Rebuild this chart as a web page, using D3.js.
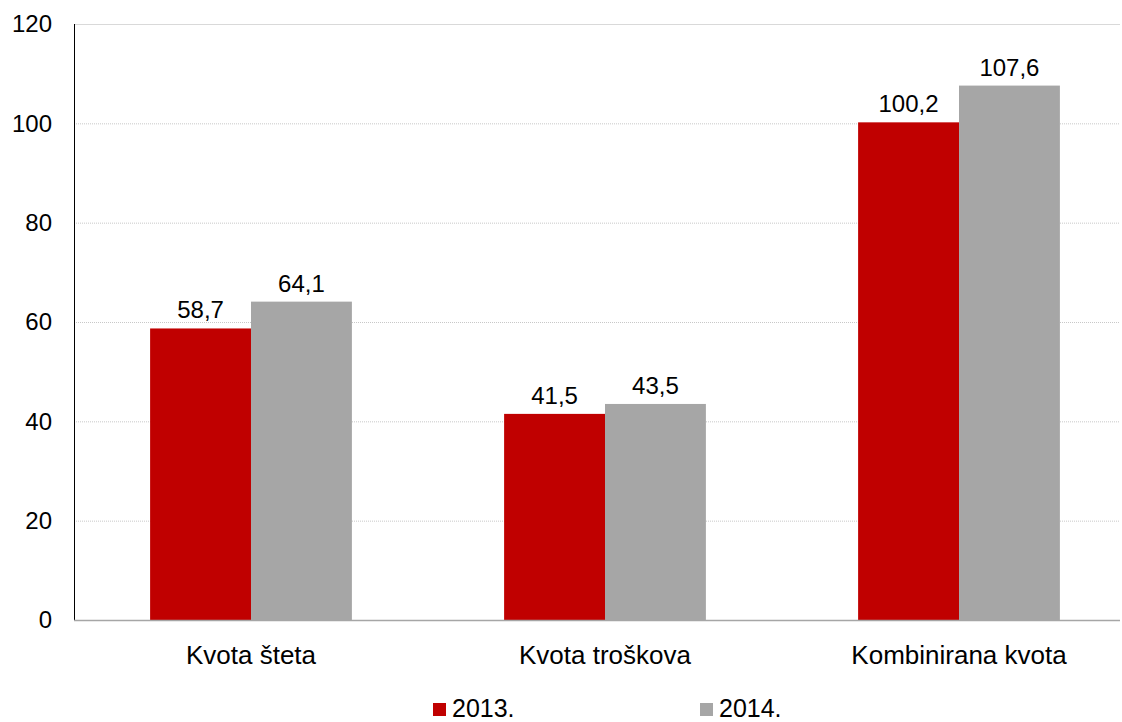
<!DOCTYPE html>
<html>
<head>
<meta charset="utf-8">
<script src="https://cdn.jsdelivr.net/npm/d3@7"></script>
<style>
  body { margin: 0; background: #fff; }
  text { font-family: "Liberation Sans", Arial, sans-serif; fill: #000; }
</style>
</head>
<body>
<div id="chart"></div>
<script>
// data
const categories = ["Kvota šteta", "Kvota troškova", "Kombinirana kvota"];
const years = ["2013.", "2014."];
const values2013 = [58.7, 41.5, 100.2];
const values2014 = [64.1, 43.5, 107.6];
const yTicks = [0, 20, 40, 60, 80, 100, 120];
const colors = ["#C00000", "#A6A6A6"];

const width = 1122, height = 722;
const plotLeft = 74, plotRight = 1136, gridRight = 1120;
const plotTop = 24, plotBottom = 620;

const svg = d3.select("#chart").append("svg")
  .attr("width", width).attr("height", height);

const x = d3.scaleBand().domain(categories).range([plotLeft, plotRight])
  .paddingInner(0.43).paddingOuter(0.215);
const xs = d3.scaleBand().domain(years).range([0, x.bandwidth()]);
const y = d3.scaleLinear().domain([0, 120]).range([plotBottom, plotTop]);

// gridlines
svg.append("g").selectAll("line")
  .data(yTicks.filter(d => d > 0))
  .join("line")
  .attr("x1", plotLeft).attr("x2", gridRight)
  .attr("y1", d => y(d) + 0.5).attr("y2", d => y(d) + 0.5)
  .attr("stroke", d => d === 120 ? "#d9d9d9" : "#c8c8c8")
  .attr("stroke-width", 1)
  .attr("stroke-dasharray", d => d === 120 ? null : "1,1");

// y labels
svg.append("g").selectAll("text")
  .data(yTicks)
  .join("text")
  .attr("x", 52).attr("y", d => y(d))
  .attr("dy", "0.35em")
  .attr("text-anchor", "end")
  .style("font-size", "24px")
  .text(d => d);

// bars
const rows = categories.map((c, i) => ({ cat: c, vals: [values2013[i], values2014[i]] }));
const groups = svg.append("g").selectAll("g")
  .data(rows).join("g")
  .attr("transform", d => `translate(${x(d.cat)},0)`);

groups.selectAll("rect")
  .data(d => d.vals.map((v, j) => ({ year: years[j], v, j })))
  .join("rect")
  .attr("x", d => xs(d.year))
  .attr("width", xs.bandwidth())
  .attr("y", d => y(d.v))
  .attr("height", d => plotBottom - y(d.v))
  .attr("fill", d => colors[d.j]);

groups.selectAll("text")
  .data(d => d.vals.map((v, j) => ({ year: years[j], v })))
  .join("text")
  .attr("x", d => xs(d.year) + xs.bandwidth() / 2)
  .attr("y", d => y(d.v) - 10)
  .attr("text-anchor", "middle")
  .style("font-size", "24px")
  .text(d => d3.format(".1f")(d.v).replace(".", ","));

// axis lines
svg.append("line")
  .attr("x1", plotLeft + 0.5).attr("x2", plotLeft + 0.5)
  .attr("y1", plotTop).attr("y2", plotBottom)
  .attr("stroke", "#000").attr("stroke-width", 1);
svg.append("line")
  .attr("x1", plotLeft).attr("x2", gridRight)
  .attr("y1", plotBottom + 0.5).attr("y2", plotBottom + 0.5)
  .attr("stroke", "#a6a6a6").attr("stroke-width", 1.5);

// category labels
svg.append("g").selectAll("text")
  .data(categories).join("text")
  .attr("x", d => x(d) + x.bandwidth() / 2)
  .attr("y", 664)
  .attr("text-anchor", "middle")
  .style("font-size", "26px")
  .text(d => d);

// legend
const legendX = [433, 700];
const legend = svg.append("g").selectAll("g")
  .data(years).join("g")
  .attr("transform", (d, i) => `translate(${legendX[i]},0)`);
legend.append("rect")
  .attr("x", 0).attr("y", 703).attr("width", 13).attr("height", 13)
  .attr("fill", (d, i) => colors[i]);
legend.append("text")
  .attr("x", 19).attr("y", 717)
  .style("font-size", "25px")
  .text(d => d);
</script>
</body>
</html>
